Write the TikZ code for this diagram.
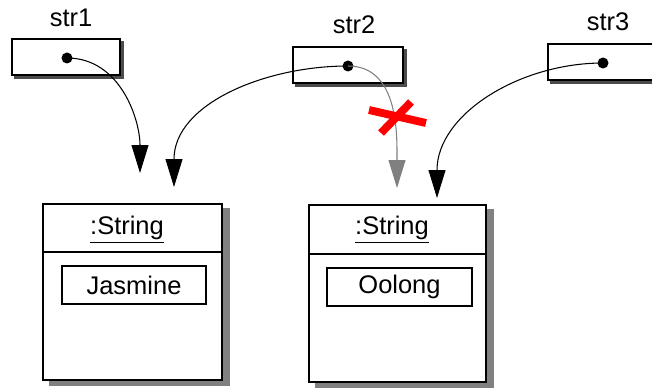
\documentclass[tikz,border=0pt]{standalone}
\usepackage{fontspec}
\setmainfont{Liberation Sans}
\usetikzlibrary{arrows.meta}
\pgfdeclarelayer{background}
\pgfsetlayers{background,main}
\tikzset{
  refbox/.style={draw,line width=1.1pt,fill=white,minimum width=2.16cm,minimum height=0.72cm},
  objbox/.style={draw,line width=1.1pt,fill=white},
  valbox/.style={draw,line width=1.1pt,minimum width=2.88cm,minimum height=0.76cm,inner sep=0pt},
  dot/.style={circle,fill=black,inner sep=0pt,minimum size=0.22cm},
  ref/.style={line width=0.6pt,-{Triangle[length=0.56cm,width=0.34cm]}},
  oldref/.style={ref,draw=black!50,-{Triangle[length=0.56cm,width=0.34cm,fill=black!50]}},
  cross/.style={draw=red,line width=4.5pt}
}

\begin{document}
\begin{tikzpicture}[x=0.02cm,y=-0.02cm,font=\fontsize{14.5}{17}\selectfont]
  \clip (0,0) rectangle (652,388);
  % reference variables
  \node[refbox] (s1) at (66,57) {};
  \node[refbox,minimum width=2.2cm] (s2) at (348,65) {};
  \node[refbox] (s3) at (602,62) {};
  \node (l1) at (71,18) {str1};
  \node (l2) at (354,25) {str2};
  \node (l3) at (608,22) {str3};
  \node[dot] (d1) at (67,58) {};
  \node[dot] (d2) at (348,66) {};
  \node[dot] (d3) at (603,63) {};
  % string objects
  \node[objbox,minimum width=3.58cm,minimum height=3.52cm] (jas) at (132.5,292) {};
  \node[objbox,minimum width=3.54cm,minimum height=3.54cm] (oo) at (397.5,293.5) {};
  \draw[line width=1.1pt] (jas.west |- 0,252) -- (jas.east |- 0,252);
  \draw[line width=1.1pt] (oo.west |- 0,254) -- (oo.east |- 0,254);
  \node (t1) at (127,230) {\underline{:String}};
  \node (t2) at (392,230) {\underline{:String}};
  \node[valbox] (v1) at (134,285) {Jasmine};
  \node[valbox,minimum width=2.9cm] (v2) at (399.5,287) {Oolong\hspace{0.2cm}};
  % shadows
  \begin{pgfonlayer}{background}
    \foreach \b in {s1,s2,s3}
      \fill[black!70] ([xshift=0.06cm,yshift=-0.06cm]\b.south west)
        rectangle ([xshift=0.06cm,yshift=-0.06cm]\b.north east);
    \foreach \b in {jas,oo}
      \fill[black!50] ([xshift=0.14cm,yshift=-0.1cm]\b.south west)
        rectangle ([xshift=0.14cm,yshift=-0.1cm]\b.north east);
  \end{pgfonlayer}
  % arrow ends
  \coordinate (e1) at (140,173);
  \coordinate (e2) at (174,187);
  \coordinate (e3) at (397,188);
  \coordinate (e4) at (437,198);
  % references
  \draw[ref] (d1.center) to[out=0,in=90] (e1);
  \draw[ref] (d2.center) to[out=180,in=90] (e2);
  \draw[oldref] (d2.center) to[out=0,in=90] (e3);
  \draw[ref] (d3.center) to[out=180,in=90] (e4);
  % broken link
  \coordinate (xa) at (369,110);
  \coordinate (xb) at (426,123);
  \coordinate (xc) at (411,102);
  \coordinate (xd) at (381,133);
  \draw[cross] (xa) -- (xb);
  \draw[cross] (xc) -- (xd);
\end{tikzpicture}
\end{document}
